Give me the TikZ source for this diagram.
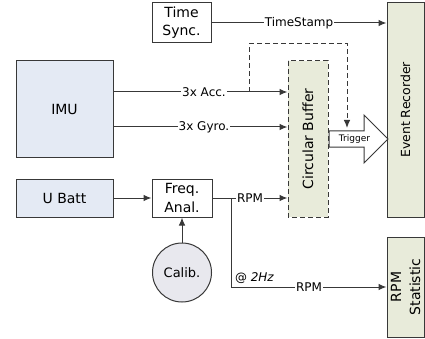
\documentclass[tikz,border=0pt]{standalone}
\usepackage{fontspec}
\setmainfont{DejaVu Sans}
\usepackage{xcolor}
\usepackage{tikz}
\usetikzlibrary{shapes.arrows, arrows.meta, positioning, calc}

\definecolor{linegray}{RGB}{56,56,56}
\definecolor{imublue}{RGB}{228,234,244}
\definecolor{bufgreen}{RGB}{232,235,218}
\definecolor{calibgray}{RGB}{232,232,238}

\begin{document}
\begin{tikzpicture}[x=1pt, y=-1pt,
    box/.style={draw=linegray, line width=1pt, rectangle, text centered, align=center, fill=white, inner sep=1pt, font=\fontsize{14}{18}\selectfont},
    imubox/.style={box, fill=imublue},
    bufbox/.style={box, fill=bufgreen},
    lbl/.style={fill=white, inner sep=1pt, font=\fontsize{12}{14}\selectfont},
    arrow/.style={draw=linegray, line width=1pt, -{Latex[length=8pt,width=6.5pt]}}
]
\useasboundingbox (0,0) rectangle (425,339);

% Sources
\node (imu) [imubox, minimum width=97pt, minimum height=97pt] at (64.5,109.5) {IMU};
\node (ubatt) [imubox, minimum width=97pt, minimum height=38pt] at (64.5,198) {U Batt};
\node (freq) [box, minimum width=60pt, minimum height=38pt, right=38pt of ubatt, font=\fontsize{14}{19}\selectfont] {Freq.\\Anal.};
\node (calib) [circle, draw=linegray, line width=1pt, fill=calibgray, minimum size=59pt, inner sep=1pt, below=25pt of freq, font=\fontsize{13}{15}\selectfont] {Calib.};
\node (tsync) [box, minimum width=59pt, minimum height=40pt] at (181.5,23) {Time\\Sync.};

% Buffer and recorders
\node (cbuf) [bufbox, dash pattern=on 5pt off 3pt, rotate=90, minimum width=156pt, minimum height=40pt] at (308,139) {Circular Buffer};
\node (er) [bufbox, rotate=90, minimum width=214pt, minimum height=37pt, font=\fontsize{12.5}{15}\selectfont] at (405.5,110) {Event Recorder};
\node (rpmst) [bufbox, rotate=90, minimum width=100pt, minimum height=37pt, font=\fontsize{14}{19}\selectfont] at (405.5,287) {RPM\\Statistic};
\node (trig) [single arrow, draw=linegray, fill=white, line width=1pt, minimum height=59pt, minimum width=48pt, single arrow head extend=11.5pt, inner sep=1pt, anchor=tail, font=\fontsize{9}{10}\selectfont] at (cbuf.south) {Trigger};

% Helper points
\coordinate (accsrc) at ($(imu.east)+(0,-17.5)$);
\coordinate (gyrosrc) at ($(imu.east)+(0,17.5)$);
\coordinate (tap) at ($(accsrc)+(136,0)$);
\coordinate (br) at ($(freq.east)+(19,0)$);
\coordinate (trigtop) at (347,128);

% Connectors
\draw [arrow] (tsync) -- (tsync -| er.north) node[lbl, midway] {TimeStamp};
\draw [arrow] (accsrc) -- (accsrc -| cbuf.north) node[lbl, pos=0.52] {3x Acc.};
\draw [arrow] (gyrosrc) -- (gyrosrc -| cbuf.north) node[lbl, pos=0.52] {3x Gyro.};
\draw [arrow, dash pattern=on 5pt off 3pt] (tap) -- (tap |- tsync.south) -| (trigtop);
\draw [arrow] (ubatt) -- (freq);
\draw [arrow] (calib) -- (freq);
\draw [arrow] (freq) -- (freq -| cbuf.north) node[lbl, midway] {RPM};
\draw [arrow] (br) |- (rpmst.north)
    node[pos=0.5, above right, inner sep=3pt, font=\fontsize{12}{14}\selectfont] {@ \textit{2Hz}}
    node[lbl, pos=0.75] {RPM};

\end{tikzpicture}
\end{document}
